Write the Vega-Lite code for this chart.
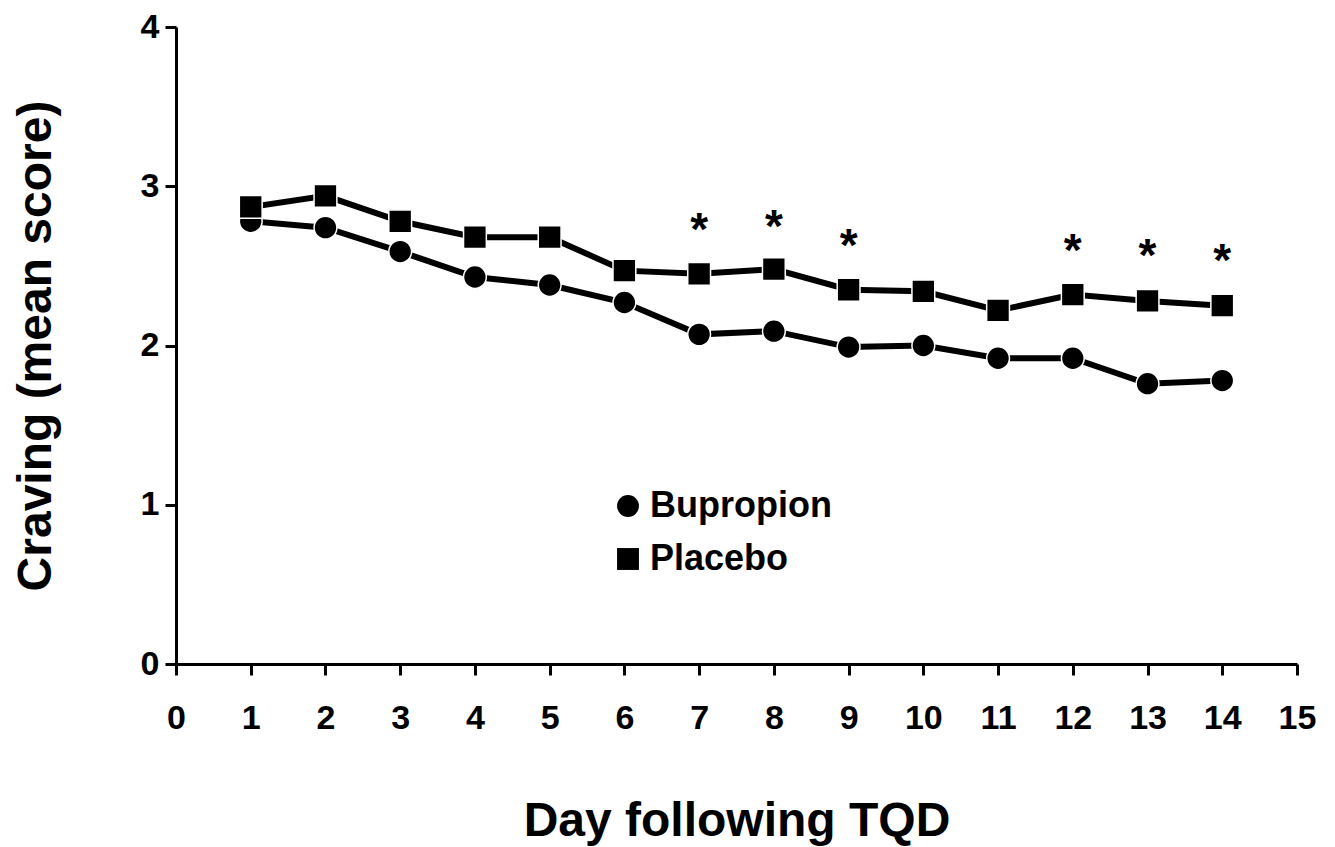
{
  "$schema": "https://vega.github.io/schema/vega-lite/v6.json",
  "autosize": "none",
  "width": 1121,
  "height": 637,
  "padding": {"left": 176, "top": 27, "right": 38, "bottom": 183},
  "background": "white",
  "config": {
    "view": {"stroke": null},
    "font": "Liberation Sans",
    "axis": {
      "domainColor": "black", "domainWidth": 3, "tickColor": "black", "tickWidth": 3, "tickSize": 11,
      "labelFont": "Liberation Sans", "labelFontWeight": "bold", "labelFontSize": 34, "labelColor": "black",
      "titleFont": "Liberation Sans", "titleFontWeight": "bold", "titleColor": "black", "grid": false, "format": "d"
    }
  },
  "datasets": {
    "series": [
      {"day": 1, "group": "Bupropion", "score": 2.78},
      {"day": 2, "group": "Bupropion", "score": 2.74},
      {"day": 3, "group": "Bupropion", "score": 2.59},
      {"day": 4, "group": "Bupropion", "score": 2.43},
      {"day": 5, "group": "Bupropion", "score": 2.38},
      {"day": 6, "group": "Bupropion", "score": 2.27},
      {"day": 7, "group": "Bupropion", "score": 2.07},
      {"day": 8, "group": "Bupropion", "score": 2.09},
      {"day": 9, "group": "Bupropion", "score": 1.99},
      {"day": 10, "group": "Bupropion", "score": 2.0},
      {"day": 11, "group": "Bupropion", "score": 1.92},
      {"day": 12, "group": "Bupropion", "score": 1.92},
      {"day": 13, "group": "Bupropion", "score": 1.76},
      {"day": 14, "group": "Bupropion", "score": 1.78},
      {"day": 1, "group": "Placebo", "score": 2.87},
      {"day": 2, "group": "Placebo", "score": 2.94},
      {"day": 3, "group": "Placebo", "score": 2.78},
      {"day": 4, "group": "Placebo", "score": 2.68},
      {"day": 5, "group": "Placebo", "score": 2.68},
      {"day": 6, "group": "Placebo", "score": 2.47},
      {"day": 7, "group": "Placebo", "score": 2.45},
      {"day": 8, "group": "Placebo", "score": 2.48},
      {"day": 9, "group": "Placebo", "score": 2.35},
      {"day": 10, "group": "Placebo", "score": 2.34},
      {"day": 11, "group": "Placebo", "score": 2.22},
      {"day": 12, "group": "Placebo", "score": 2.32},
      {"day": 13, "group": "Placebo", "score": 2.28},
      {"day": 14, "group": "Placebo", "score": 2.25}
    ],
    "stars": [
      {"day": 7, "pos": 2.78, "mark": "*"},
      {"day": 8, "pos": 2.80, "mark": "*"},
      {"day": 9, "pos": 2.68, "mark": "*"},
      {"day": 12, "pos": 2.65, "mark": "*"},
      {"day": 13, "pos": 2.62, "mark": "*"},
      {"day": 14, "pos": 2.59, "mark": "*"}
    ]
  },
  "layer": [
    {
      "data": {"name": "series"},
      "mark": {"type": "line", "color": "black", "strokeWidth": 6},
      "encoding": {
        "x": {"field": "day", "type": "quantitative", "scale": {"domain": [0, 15], "nice": false},
          "axis": {"values": [0,1,2,3,4,5,6,7,8,9,10,11,12,13,14,15], "title": "Day following TQD", "titleFontSize": 48, "labelPadding": 26, "titlePadding": 62, "labelFlush": false}},
        "y": {"field": "score", "type": "quantitative", "scale": {"domain": [0, 4], "nice": false},
          "axis": {"values": [0,1,2,3,4], "title": "Craving (mean score)", "titleFontSize": 48, "labelPadding": 6, "titlePadding": 80, "labelFlush": false}},
        "detail": {"field": "group"}
      }
    },
    {
      "data": {"name": "series"},
      "mark": {"type": "point", "filled": true, "fill": "black", "stroke": "white", "strokeWidth": 1.5, "size": 520, "opacity": 1},
      "encoding": {
        "x": {"field": "day", "type": "quantitative"},
        "y": {"field": "score", "type": "quantitative"},
        "shape": {"field": "group", "type": "nominal",
          "scale": {"domain": ["Bupropion", "Placebo"], "range": ["circle", "square"]},
          "legend": {"title": null, "orient": "none", "legendX": 434, "legendY": 461,
            "symbolSize": 480, "symbolFillColor": "black", "symbolStrokeColor": "black", "symbolStrokeWidth": 0,
            "labelFontSize": 36, "labelFontWeight": "bold", "labelFont": "Liberation Sans", "labelColor": "black",
            "labelLimit": 500, "rowPadding": 17, "labelOffset": 4}}
      }
    },
    {
      "data": {"name": "stars"},
      "mark": {"type": "text", "fontSize": 46, "fontWeight": "bold", "font": "Liberation Sans", "color": "black", "baseline": "middle", "dy": 10},
      "encoding": {
        "x": {"field": "day", "type": "quantitative"},
        "y": {"field": "pos", "type": "quantitative"},
        "text": {"field": "mark"}
      }
    }
  ]
}
